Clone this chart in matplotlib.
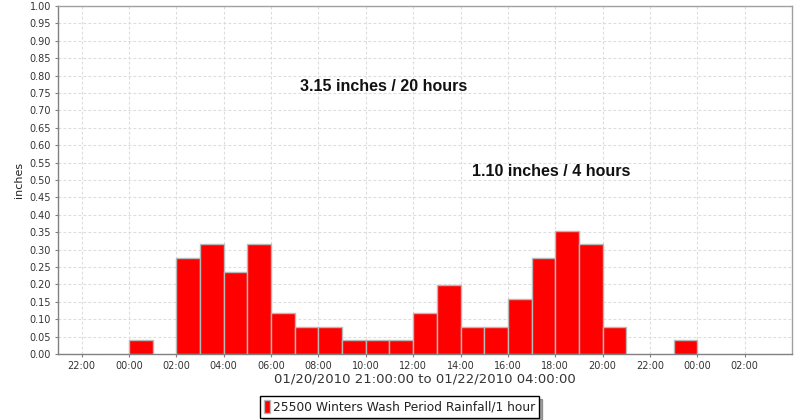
import matplotlib
matplotlib.use("Agg")
import matplotlib.pyplot as plt
import matplotlib.dates as mdates
from datetime import datetime, timedelta

# ---- data ----
range_start = "2010-01-20 21:00"
range_end = "2010-01-22 04:00"
bar_starts = [
    "2010-01-21 00:00", "2010-01-21 02:00", "2010-01-21 03:00", "2010-01-21 04:00",
    "2010-01-21 05:00", "2010-01-21 06:00", "2010-01-21 07:00", "2010-01-21 08:00",
    "2010-01-21 09:00", "2010-01-21 10:00", "2010-01-21 11:00", "2010-01-21 12:00",
    "2010-01-21 13:00", "2010-01-21 14:00", "2010-01-21 15:00", "2010-01-21 16:00",
    "2010-01-21 17:00", "2010-01-21 18:00", "2010-01-21 19:00", "2010-01-21 20:00",
    "2010-01-21 23:00",
]
rain_inches = [0.039, 0.276, 0.315, 0.236, 0.315, 0.118, 0.079, 0.079,
               0.039, 0.039, 0.039, 0.118, 0.197, 0.079, 0.079, 0.157,
               0.276, 0.354, 0.315, 0.079, 0.039]
x_tick_times = [
    "2010-01-20 22:00", "2010-01-21 00:00", "2010-01-21 02:00", "2010-01-21 04:00",
    "2010-01-21 06:00", "2010-01-21 08:00", "2010-01-21 10:00", "2010-01-21 12:00",
    "2010-01-21 14:00", "2010-01-21 16:00", "2010-01-21 18:00", "2010-01-21 20:00",
    "2010-01-21 22:00", "2010-01-22 00:00", "2010-01-22 02:00",
]
y_ticks = [i * 0.05 for i in range(21)]
x_label = "01/20/2010 21:00:00 to 01/22/2010 04:00:00"
y_label = "inches"
legend_label = "25500 Winters Wash Period Rainfall/1 hour"
annotations = ["3.15 inches / 20 hours", "1.10 inches / 4 hours"]

fmt = "%Y-%m-%d %H:%M"
starts = [datetime.strptime(s, fmt) for s in bar_starts]
ticks = [datetime.strptime(s, fmt) for s in x_tick_times]
x0 = datetime.strptime(range_start, fmt)
x1 = datetime.strptime(range_end, fmt)

fig = plt.figure(figsize=(8, 4.2), dpi=100)
ax = fig.add_axes([58 / 800, 1 - 354 / 420, (792 - 58) / 800, (354 - 6) / 420])

bars = ax.bar(starts, rain_inches, width=1 / 24, align="edge",
              color="#ff0000", edgecolor="#b8b8b8", linewidth=1.0,
              label=legend_label, zorder=3)

ax.set_xlim(x0, x1)
ax.set_ylim(0, 1.0)
ax.set_yticks(y_ticks)
ax.yaxis.set_major_formatter(plt.FuncFormatter(lambda v, p: f"{v:.2f}"))
ax.set_xticks(ticks)
ax.xaxis.set_major_formatter(mdates.DateFormatter("%H:%M"))

ax.grid(True, color="#dcdcdc", linestyle=(0, (2.5, 2)), linewidth=0.8, zorder=0)
for s in ax.spines.values():
    s.set_color("#a0a0a0")
    s.set_linewidth(1.0)
ax.spines["left"].set_color("#808080")
ax.spines["bottom"].set_color("#808080")
ax.tick_params(axis="both", labelsize=7, colors="#808080", labelcolor="#333333",
               length=2, width=0.8, pad=3)
ax.tick_params(axis="x", pad=3)

ax.set_xlabel(x_label, fontsize=9.5, color="#333333", labelpad=1)
ax.set_ylabel(y_label, fontsize=8, color="#222222", labelpad=4)

ax.text(x0 + timedelta(hours=10.2), 0.756, annotations[0], fontsize=11.5,
        family="Liberation Sans", fontweight="bold", color="#111111", zorder=4)
ax.text(x0 + timedelta(hours=17.5), 0.511, annotations[1], fontsize=11.5,
        family="Liberation Sans", fontweight="bold", color="#111111", zorder=4)

leg = fig.legend(handles=[bars], labels=[legend_label], loc="center",
                 bbox_to_anchor=(399.5 / 800, 1 - 407 / 420), fontsize=8.8,
                 frameon=True, fancybox=False, edgecolor="black",
                 handlelength=0.45, handleheight=1.2, handletextpad=0.25,
                 borderpad=0.35, borderaxespad=0, shadow=True)
leg.get_frame().set_linewidth(1.0)
for t in leg.get_texts():
    t.set_color("#222222")

fig.savefig("out.png", dpi=100)
